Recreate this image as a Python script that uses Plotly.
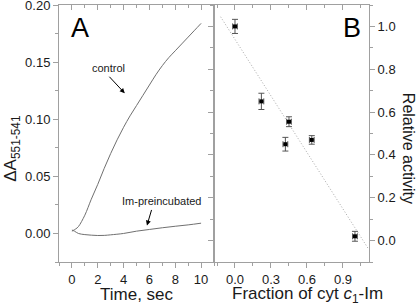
import plotly.graph_objects as go

# Panel A: kinetic traces
time_control = [0, 0.3, 0.5, 1.0, 1.5, 2.0, 2.5, 3.0, 3.5, 4.0, 4.5, 5.0, 5.5, 6.0, 6.5, 7.0, 7.5, 8.0, 8.5, 9.0, 9.5, 10.0]
dA_control = [0.002, 0.004, 0.006, 0.016, 0.030, 0.043, 0.057, 0.070, 0.082, 0.093, 0.103, 0.112, 0.121, 0.130, 0.139, 0.147, 0.154, 0.160, 0.166, 0.172, 0.178, 0.184]
time_im = [0, 0.2, 0.5, 1.0, 1.5, 2.0, 2.5, 3.0, 4.0, 5.0, 6.0, 7.0, 8.0, 9.0, 10.0]
dA_im = [0.003, 0.002, 0.000, -0.001, -0.0015, -0.0018, -0.0017, -0.0012, 0.000, 0.002, 0.0035, 0.005, 0.0063, 0.0075, 0.009]

# Panel B: relative activity vs fraction
fraction = [0.0, 0.22, 0.45, 0.42, 0.64, 1.0]
activity = [1.0, 0.65, 0.555, 0.45, 0.47, 0.02]
activity_err = [0.033, 0.038, 0.023, 0.032, 0.02, 0.023]
fraction_err = [0.02, 0.02, 0.02, 0.02, 0.02, 0.02]
fit_x = [-0.12, 1.11]
fit_y = [1.045, -0.037]

AX = "#a0a0a0"
TXT = "#1a1a1a"
FONT = "Liberation Sans, Arial, sans-serif"

fig = go.Figure()
fig.add_trace(go.Scatter(x=time_control, y=dA_control, mode="lines", line_shape="spline",
                         line=dict(color="#707070", width=1), xaxis="x", yaxis="y", showlegend=False))
fig.add_trace(go.Scatter(x=time_im, y=dA_im, mode="lines", line_shape="spline",
                         line=dict(color="#707070", width=1), xaxis="x", yaxis="y", showlegend=False))
fig.add_trace(go.Scatter(x=fit_x, y=fit_y, mode="lines",
                         line=dict(color="#a8a8a8", width=1, dash="1px,2px"), xaxis="x2", yaxis="y2", showlegend=False))
fig.add_trace(go.Scatter(x=fraction, y=activity, mode="markers",
                         marker=dict(color="black", size=4, symbol="square"),
                         error_y=dict(type="data", array=activity_err, color="#555", thickness=1, width=3),
                         error_x=dict(type="data", array=fraction_err, color="#555", thickness=1, width=3),
                         xaxis="x2", yaxis="y2", showlegend=False))
# dummy traces so overlay axes render
fig.add_trace(go.Scatter(x=[None], y=[None], xaxis="x3", yaxis="y", showlegend=False))
fig.add_trace(go.Scatter(x=[None], y=[None], xaxis="x4", yaxis="y2", showlegend=False))

tickfont = dict(family=FONT, size=13, color=TXT)
minor_out = lambda d: dict(ticks="outside", ticklen=3, dtick=d, tickcolor=AX)
minor_in = lambda d: dict(ticks="inside", ticklen=3, dtick=d, tickcolor=AX)
common = dict(showgrid=False, zeroline=False, showline=True, linecolor=AX, linewidth=1,
              ticklen=5, tickcolor=AX, tickmode="linear", automargin=False, ticklabeloverflow="allow")

fig.update_layout(
    width=416, height=308,
    margin=dict(l=59, r=47, t=5, b=46),
    paper_bgcolor="white", plot_bgcolor="white",
    font=dict(family=FONT, color=TXT),
    xaxis=dict(domain=[0, 0.5], range=[-1, 11], anchor="y", ticks="outside",
               tick0=0, dtick=2, minor=minor_out(1), tickfont=tickfont, **common),
    xaxis3=dict(overlaying="x", side="top", anchor="y", range=[-1, 11], ticks="inside",
                tick0=0, dtick=2, minor=minor_in(1), showticklabels=False, **common),
    yaxis=dict(domain=[0, 1], range=[-0.025, 0.2001], anchor="x", mirror=True, ticks="outside",
               tick0=0, dtick=0.05, tickformat=".2f", minor=minor_out(0.025), tickfont=tickfont, **common),
    xaxis2=dict(domain=[0.5, 1], range=[-0.175, 1.117], anchor="y2", ticks="outside",
                tick0=0, dtick=0.3, tickformat=".1f", minor=minor_out(0.15), tickfont=tickfont, **common),
    xaxis4=dict(overlaying="x2", side="top", anchor="y2", range=[-0.175, 1.117], ticks="inside",
                tick0=0, dtick=0.3, minor=minor_in(0.15), showticklabels=False, **common),
    yaxis2=dict(domain=[0, 1], range=[-0.1, 1.1], anchor="x2", side="right", mirror="ticks", ticks="outside",
                tick0=0, dtick=0.2, tickformat=".1f", minor=minor_out(0.1), tickfont=tickfont, **common),
)

def label(text, x, y, size=16, angle=0, xref="paper", yref="paper", color=TXT):
    return dict(text=text, x=x, y=y, xref=xref, yref=yref, showarrow=False, textangle=angle,
                xanchor="center", yanchor="middle", font=dict(size=size, family=FONT, color=color))

ann = [
    label("A", 0.068, 0.911, size=27, color="black"),
    label("B", 0.945, 0.911, size=27, color="black"),
    label("ΔA<sub>551-541</sub>", -0.152, 0.444, size=17, angle=-90),
    label("Time, sec", 0.25, -0.128, size=17),
    label("Fraction of cyt <i>c</i><sub>1</sub>-Im", 0.8, -0.128, size=17),
    label("Relative activity", 1.126, 0.444, angle=90),
    label("control", 2.87, 0.1447, size=11, xref="x", yref="y"),
    dict(text="", x=4.09, y=0.1228, ax=2.79, ay=0.1386, xref="x", yref="y", axref="x", ayref="y",
         showarrow=True, arrowhead=2, arrowsize=1, arrowwidth=1, arrowcolor="black"),
    label("Im-preincubated", 6.98, 0.028, size=11, xref="x", yref="y"),
    dict(text="", x=5.81, y=0.007, ax=6.2, ay=0.0219, xref="x", yref="y", axref="x", ayref="y",
         showarrow=True, arrowhead=2, arrowsize=1, arrowwidth=1, arrowcolor="black"),
]
fig.update_layout(annotations=ann)

fig.write_html("out.html", config={"displayModeBar": False},
               post_script="document.body.style.margin='0';")
